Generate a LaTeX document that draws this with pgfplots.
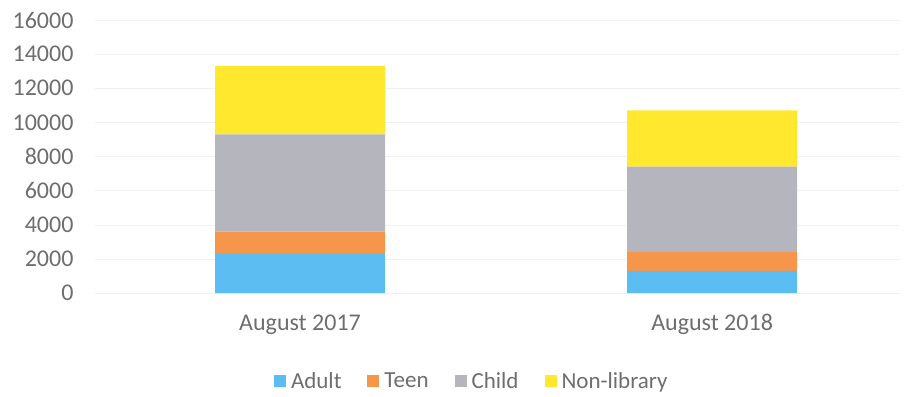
\documentclass[border=0pt]{standalone}
\usepackage{pgfplots}
\pgfplotsset{compat=1.18}
\usepackage{fontspec}
\setmainfont{Carlito}
\definecolor{adult}{HTML}{5CBDF2}
\definecolor{teen}{HTML}{F5964A}
\definecolor{child}{HTML}{B5B5BD}
\definecolor{nonlib}{HTML}{FFE82E}
\definecolor{txt}{HTML}{6E6E6E}
\begin{document}
\begin{tikzpicture}
\useasboundingbox (-95pt,-103pt) rectangle (809pt,293pt);
\begin{axis}[
  scale only axis, width=805pt, height=273pt,
  ymin=0, ymax=16000, xmin=-0.4976, xmax=1.456,
  ybar stacked, bar width=170pt,
  xtick={0,1}, xticklabels={August 2017, August 2018},
  ytick={0,2000,...,16000}, scaled y ticks=false,
  axis line style={draw=none}, major tick style={draw=none},
  ymajorgrids, grid style={black!6},
  /pgf/number format/assume math mode=true,
  /pgf/number format/1000 sep={},
  tick label style={font=\fontsize{24}{28}\selectfont, text=txt},
  yticklabel style={xshift=-18pt},
  xticklabel style={yshift=-18pt},
  legend style={at={(0.468,-0.322)}, anchor=center, draw=none,
    legend columns=-1, font=\fontsize{23}{27}\selectfont, text=txt,
    /tikz/every odd column/.append style={column sep=3pt},
    /tikz/every even column/.append style={column sep=24pt}},
  legend image code/.code={\fill[#1] (0pt,-6pt) rectangle (12pt,6pt);},
]
\addplot[fill=adult, draw=none] coordinates {(0,2300) (1,1300)};
\addplot[fill=teen, draw=none] coordinates {(0,1300) (1,1100)};
\addplot[fill=child, draw=none] coordinates {(0,5700) (1,5000)};
\addplot[fill=nonlib, draw=none] coordinates {(0,4000) (1,3300)};
\legend{Adult, Teen, Child, Non-library}
\end{axis}
\end{tikzpicture}
\end{document}
